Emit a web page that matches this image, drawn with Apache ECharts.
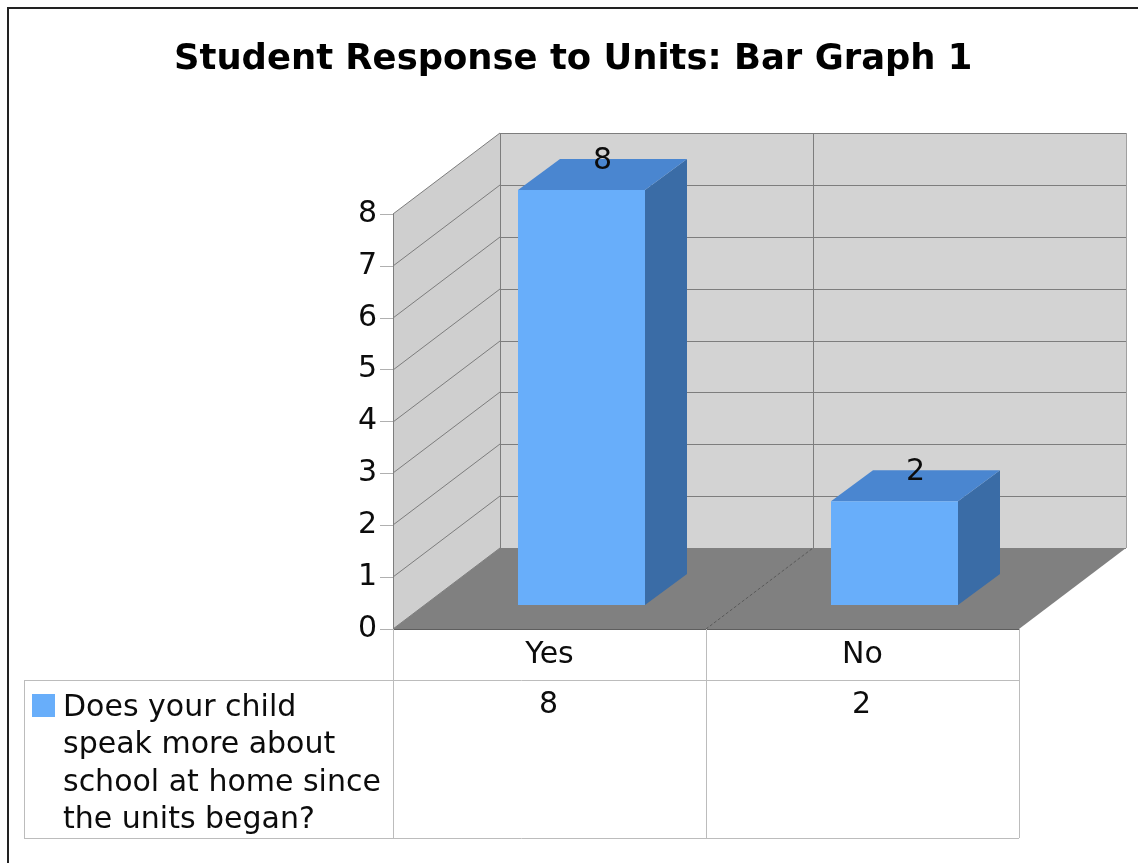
<!DOCTYPE html>
<html><head><meta charset="utf-8">
<style>html,body{margin:0;padding:0;background:#fff}#c{width:1138px;height:863px}</style>
<script src="https://cdn.jsdelivr.net/npm/echarts@6/dist/echarts.min.js"></script>
</head><body><div id="c"></div>
<script>
const titleText = 'Student Response to Units: Bar Graph 1';
const categories = ['Yes', 'No'];
const values = [8, 2];
const yTicks = [0, 1, 2, 3, 4, 5, 6, 7, 8];
const legendLines = ['Does your child', 'speak more about', 'school at home since', 'the units began?'];

const FONT = '"DejaVu Sans", Verdana, sans-serif';
const TXT = '#0c0c0c';
const DX = 107, DY = 81;          // room depth
const INX = 32, INY = 24;         // bar inset from front plane
const BDX = 42, BDY = 31;         // bar depth
const BW = 127;                   // bar width
const GRID = '#7d7d7d', TABLE = '#bcbcbc';

function line(x1, y1, x2, y2, stroke, extra) {
  const h = y1 === y2 ? 0.5 : 0, v = x1 === x2 ? 0.5 : 0;
  return { type: 'line', shape: { x1: x1 + v, y1: y1 + h, x2: x2 + v, y2: y2 + h }, silent: true,
    style: Object.assign({ stroke, lineWidth: 1 }, extra || {}) };
}
function poly(points, fill) {
  return { type: 'polygon', shape: { points }, silent: true, style: { fill } };
}

function renderRoom(params, api) {
  const cs = params.coordSys;
  const L = cs.x, R = cs.x + cs.width;
  const y0 = api.coord([0, 0])[1], yT = api.coord([0, yTicks[yTicks.length - 1]])[1];
  const mid = (L + R) / 2;
  const kids = [
    poly([[L, y0], [L + DX, y0 - DY], [L + DX, yT - DY], [L, yT]], '#cfcfcf'),
    poly([[L + DX, y0 - DY], [R + DX, y0 - DY], [R + DX, yT - DY], [L + DX, yT - DY]], '#d3d3d3')
  ];
  yTicks.forEach(t => {
    const y = Math.round(api.coord([0, t])[1]);
    kids.push(line(L, y, L + DX, y - DY, GRID));
    kids.push(line(L + DX, y - DY, R + DX, y - DY, GRID));
  });
  kids.push(line(L, y0, L, yT, GRID));
  kids.push(line(L + DX, y0 - DY, L + DX, yT - DY, GRID));
  kids.push(line(mid + DX, y0 - DY, mid + DX, yT - DY, GRID));
  kids.push(line(R + DX, y0 - DY, R + DX, yT - DY, '#a0a0a0'));
  kids.push(poly([[L, y0], [L + DX, y0 - DY], [R + DX, y0 - DY], [R, y0]], '#808080'));
  kids.push(line(mid, y0, mid + DX, y0 - DY, '#5a5a5a', { lineDash: [3, 2] }));
  kids.push(line(L, y0, R, y0, '#5e5e5e'));
  return { type: 'group', children: kids };
}

function renderBar(params, api) {
  const p = api.coord([api.value(0), api.value(1)]);
  const b = api.coord([api.value(0), 0]);
  const x0 = p[0] + INX - BW / 2, x1 = x0 + BW;
  const top = p[1] - INY, bot = b[1] - INY;
  return { type: 'group', children: [
    poly([[x1, top], [x1 + BDX, top - BDY], [x1 + BDX, bot - BDY], [x1, bot]], '#3a6ca6'),
    poly([[x0, top], [x0 + BDX, top - BDY], [x1 + BDX, top - BDY], [x1, top]], '#4a86d0'),
    { type: 'rect', shape: { x: x0, y: top, width: BW, height: bot - top }, silent: true, style: { fill: '#68aefa' } },
    { type: 'text', silent: true, x: x0 + (BW + BDX) / 2, y: top - BDY + 2,
      style: { text: String(api.value(1)), font: '30px ' + FONT, fill: TXT,
        align: 'center', verticalAlign: 'middle' } }
  ] };
}

function renderTable(params, api) {
  const cs = params.coordSys;
  const L = cs.x, R = cs.x + cs.width, mid = (L + R) / 2, y0 = cs.y + cs.height;
  const r1 = 680, r2 = 838, left = 24;
  const kids = [
    line(L, y0, L, r2, TABLE), line(mid, y0, mid, r2, TABLE), line(R, y0, R, r2, TABLE),
    line(left, r1, R, r1, TABLE), line(left, r2, R, r2, TABLE), line(left, r1, left, r2, TABLE),
    { type: 'rect', silent: true, shape: { x: 32, y: 694, width: 23, height: 23 }, style: { fill: '#68aefa' } }
  ];
  legendLines.forEach((t, i) => kids.push({ type: 'text', silent: true, x: 63, y: 708 + i * 37.4,
    style: { text: t, font: '30px ' + FONT, fill: TXT, align: 'left', verticalAlign: 'middle' } }));
  values.forEach((v, i) => kids.push({ type: 'text', silent: true, x: api.coord([i, 0])[0] - 1, y: 705,
    style: { text: String(v), font: '30px ' + FONT, fill: TXT, align: 'center', verticalAlign: 'middle' } }));
  return { type: 'group', children: kids };
}

const chart = echarts.init(document.getElementById('c'), null, { renderer: 'canvas' });
chart.setOption({
  animation: false,
  backgroundColor: '#fff',
  title: { text: titleText, left: 169, top: 37,
    textStyle: { fontFamily: FONT, fontWeight: 'bold', fontSize: 35.4, color: '#000' } },
  grid: { left: 393, top: 214, width: 626, height: 415, containLabel: false },
  xAxis: { type: 'category', data: categories, boundaryGap: true,
    axisLine: { show: false }, axisTick: { show: false },
    axisLabel: { margin: 11, fontFamily: FONT, fontSize: 30, color: TXT } },
  yAxis: { type: 'value', min: 0, max: yTicks[yTicks.length - 1], interval: 1,
    splitLine: { show: false }, axisLine: { show: false },
    axisTick: { show: true, length: 13, lineStyle: { color: '#b0b0b0' } },
    axisLabel: { margin: 16, padding: [2, 0, 0, 0], fontFamily: FONT, fontSize: 30, color: TXT } },
  graphic: [
    { type: 'line', silent: true, shape: { x1: 7, y1: 8, x2: 1138, y2: 8 }, style: { stroke: '#222', lineWidth: 2 } },
    { type: 'line', silent: true, shape: { x1: 8, y1: 7, x2: 8, y2: 863 }, style: { stroke: '#222', lineWidth: 2 } }
  ],
  series: [
    { type: 'custom', coordinateSystem: 'cartesian2d', renderItem: renderRoom, data: [[0, 0]], z: 1, silent: true, clip: false },
    { type: 'custom', coordinateSystem: 'cartesian2d', renderItem: renderTable, data: [[0, 0]], z: 1, silent: true, clip: false },
    { type: 'custom', coordinateSystem: 'cartesian2d', renderItem: renderBar, encode: { x: 0, y: 1 },
      data: values.map((v, i) => [i, v]), z: 3, silent: true, clip: false }
  ]
});
</script></body></html>
